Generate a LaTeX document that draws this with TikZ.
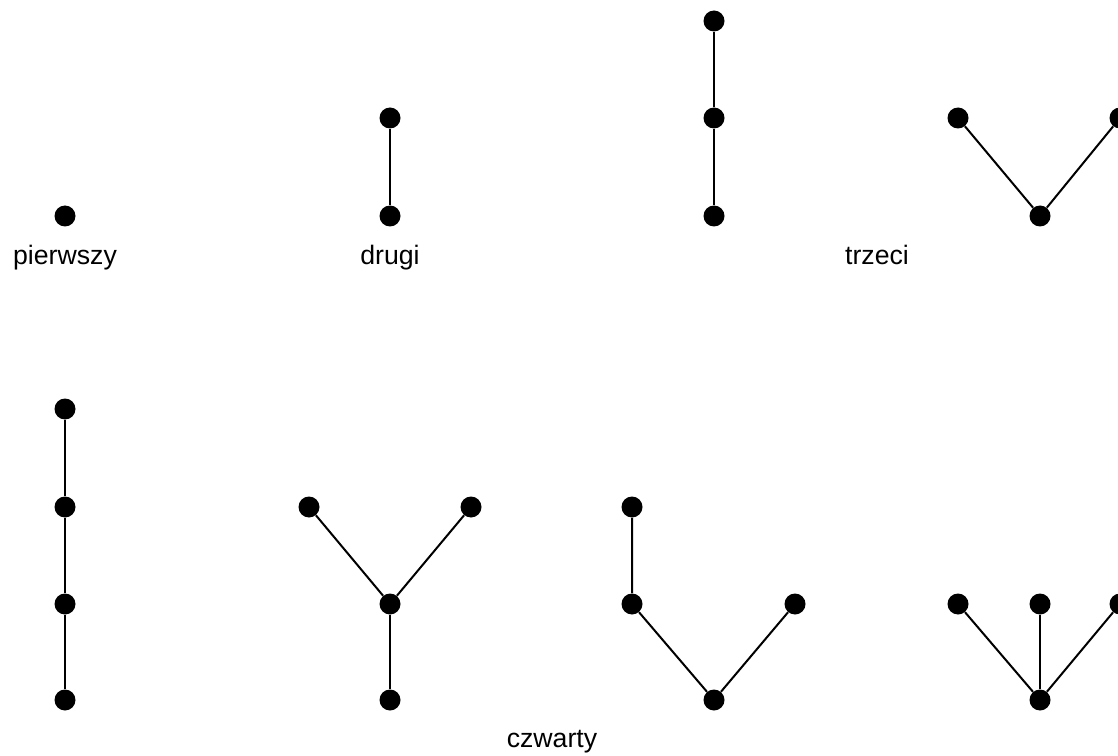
\documentclass[tikz,border=0pt]{standalone}
\usepackage{fontspec}
\setmainfont{Liberation Sans}
\begin{document}
\begin{tikzpicture}[x=0.75pt,y=-0.75pt,
  vtx/.style={circle,fill=black,inner sep=0pt,minimum size=15.75pt},
  edge/.style={line width=1.5pt},
  lab/.style={anchor=base,font=\fontsize{20}{24}\selectfont}]
\useasboundingbox (0,0) rectangle (1118,756);
% pierwszy
\node[vtx] (a1) at (65,216) {};
\node[lab] (la) at (65,264) {pierwszy};
% drugi
\node[vtx] (b1) at (390,118) {};
\node[vtx] (b2) at (390,216) {};
\draw[edge] (b1) -- (b2);
\node[lab] (lb) at (390,264) {drugi};
% trzeci
\node[vtx] (c1) at (714,21) {};
\node[vtx] (c2) at (714,118) {};
\node[vtx] (c3) at (714,216) {};
\draw[edge] (c1) -- (c2) -- (c3);
\node[vtx] (d1) at (958,118) {};
\node[vtx] (d2) at (1040,216) {};
\node[vtx] (d3) at (1120,118) {};
\draw[edge] (d1) -- (d2) -- (d3);
\node[lab] (lc) at (877,264) {trzeci};
% czwarty
\node[vtx] (e1) at (65,409) {};
\node[vtx] (e2) at (65,507) {};
\node[vtx] (e3) at (65,604) {};
\node[vtx] (e4) at (65,700) {};
\draw[edge] (e1) -- (e2) -- (e3) -- (e4);
\node[vtx] (f1) at (309,507) {};
\node[vtx] (f2) at (471,507) {};
\node[vtx] (f3) at (390,604) {};
\node[vtx] (f4) at (390,700) {};
\draw[edge] (f1) -- (f3) -- (f2);
\draw[edge] (f3) -- (f4);
\node[vtx] (g1) at (632,507) {};
\node[vtx] (g2) at (632,604) {};
\node[vtx] (g3) at (714,700) {};
\node[vtx] (g4) at (795,604) {};
\draw[edge] (g1) -- (g2) -- (g3) -- (g4);
\node[vtx] (h1) at (958,604) {};
\node[vtx] (h2) at (1040,604) {};
\node[vtx] (h3) at (1120,604) {};
\node[vtx] (h4) at (1040,700) {};
\draw[edge] (h1) -- (h4) -- (h3);
\draw[edge] (h2) -- (h4);
\node[lab] (ld) at (552,747) {czwarty};
\end{tikzpicture}
\end{document}
